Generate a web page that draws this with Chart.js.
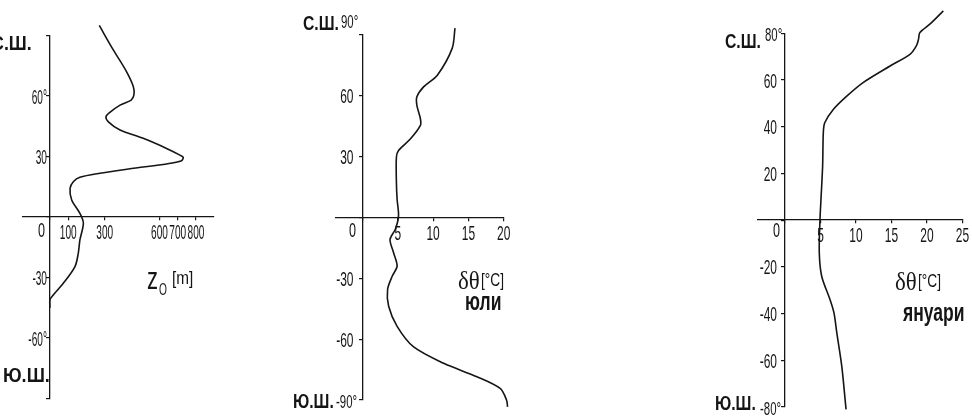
<!DOCTYPE html>
<html>
<head>
<meta charset="utf-8">
<script src="https://cdn.jsdelivr.net/npm/chart.js@4.4.1/dist/chart.umd.min.js"></script>
<style>
  body { margin: 0; background: #fff; width: 972px; height: 418px; overflow: hidden; position: relative;
         font-family: "Liberation Sans", Arial, sans-serif; color: #151515; }
  canvas { position: absolute; top: 0; }
  .t { position: absolute; white-space: nowrap; line-height: 1; transform-origin: 0 0; }
  .hem { font-weight: bold; font-size: 21px; transform: scaleX(0.75); }
  .deg { font-size: 19px; transform: scaleX(0.6); }
  .num { font-size: 21px; transform: scaleX(0.6); }
  .serif { font-family: "Liberation Serif", serif; font-size: 26px; transform: scaleX(0.88); }
  .unit { font-size: 19px; transform: scaleX(0.72); }
  .month { font-weight: bold; font-size: 25px; transform: scaleX(0.7); }
</style>
</head>
<body>
<canvas id="c1" width="240" height="418" style="left:0"></canvas>
<canvas id="c2" width="260" height="418" style="left:270px"></canvas>
<canvas id="c3" width="282" height="418" style="left:690px"></canvas>

<!-- panel 1 -->
<div class="t hem" style="left:-9px;top:32px;transform:scaleX(0.85)">С.Ш.</div>
<div class="t hem" style="left:3px;top:364px;transform:scaleX(0.86)">Ю.Ш.</div>
<div class="t num" style="left:38px;top:219px">0</div>
<div class="t" style="left:147px;top:262px;font-size:32px;transform:scaleX(0.69)">z</div>
<div class="t" style="left:159px;top:281px;font-size:17px;transform:scaleX(0.6)">O</div>
<div class="t" style="left:172px;top:269px;font-size:18px;transform:scaleX(0.85)">[m]</div>

<!-- panel 2 -->
<div class="t hem" style="left:303px;top:12px">С.Ш.</div>
<div class="t deg" style="left:341px;top:12px">90°</div>
<div class="t hem" style="left:293px;top:390px">Ю.Ш.</div>
<div class="t deg" style="left:336px;top:392px">-90°</div>
<div class="t num" style="left:349px;top:219px">0</div>
<div class="t serif" style="left:458px;top:268px">δθ</div>
<div class="t unit" style="left:481px;top:270px">[°C]</div>
<div class="t month" style="left:465px;top:289px">юли</div>

<!-- panel 3 -->
<div class="t hem" style="left:725px;top:30px">С.Ш.</div>
<div class="t deg" style="left:765px;top:25px">80°</div>
<div class="t hem" style="left:715px;top:392px">Ю.Ш.</div>
<div class="t deg" style="left:760px;top:399px">-80°</div>
<div class="t num" style="left:773px;top:219px">0</div>
<div class="t serif" style="left:895px;top:269px">δθ</div>
<div class="t unit" style="left:918px;top:271px">[°C]</div>
<div class="t month" style="left:903px;top:300px">януари</div>

<script>
// Panel 1: roughness length z0 [m] vs latitude
const lat1 = [95, 83, 72, 64.6, 60.5, 58, 55.5, 52, 49.7, 47.2, 43.1, 39, 34, 30.7, 29.6, 27.9, 26.3, 24.2, 21.7, 19.7, 17.5, 14.2, 8.4, 1.8, -3.1, -11.4, -18, -24.6, -32.9, -38.7, -41, -45];
const z0   = [270, 346, 420, 457, 460, 445, 384, 330, 307, 320, 384, 511, 639, 712, 730, 721, 639, 457, 274, 164, 128, 110, 119, 164, 183, 164, 155, 137, 73, 18, 0, 0];
const xTicks1 = [0, 100, 300, 600, 700, 800];
const yTicks1 = [-90, -60, -30, 0, 30, 60, 90];

// Panel 2: delta theta [C], July
const lat2   = [93.4, 83.4, 70.2, 64.4, 59.5, 55.3, 48.7, 45.4, 38.8, 33, 29.7, 17.3, 9, 0.8, -5.8, -10.8, -17.4, -24, -29, -35.5, -43.8, -53.7, -63.7, -71.9, -78.5, -84.3, -90, -93.4];
const dthJul = [13.1, 12.7, 10.6, 8.65, 7.7, 7.7, 8.2, 8.2, 6.8, 5.1, 4.8, 4.8, 4.9, 5.1, 4.65, 3.9, 4.4, 4.9, 4.2, 3.55, 3.7, 4.9, 7.2, 11.5, 16.2, 19.5, 20.4, 20.55];
const xTicks2 = [0, 5, 10, 15, 20];
const yTicks2 = [-90, -60, -30, 0, 30, 60, 90];

// Panel 3: delta theta [C], January
const lat3   = [89.6, 83.9, 80.3, 77.4, 74.6, 71, 66, 58.9, 53.1, 47.4, 41.7, 37.5, 23.1, 8.9, 0.3, -14, -24, -34, -39.7, -48.3, -62.6, -81];
const dthJan = [22.3, 20.4, 19, 18.8, 18.5, 17.6, 14.8, 11, 8.7, 6.8, 5.6, 5.4, 5.3, 5.07, 4.93, 4.83, 5.17, 6.34, 6.9, 7.3, 8, 8.6];
const xTicks3 = [0, 5, 10, 15, 20, 25];
const yTicks3 = [-80, -60, -40, -20, 0, 20, 40, 60, 80];

const FONT = "'Liberation Sans', Arial, sans-serif";
const INK = "#151515";
const TICK_SIZE = 21;

function zip(xs, ys) {
    return xs.map((x, i) => ({ x: x, y: ys[i] }));
}

// narrow, tall tick labels like the scanned figure
function drawNarrow(ctx, text, x, y, align, squeeze) {
    ctx.save();
    ctx.translate(x, y);
    ctx.scale(squeeze, 1);
    ctx.textAlign = align;
    ctx.textBaseline = "alphabetic";
    ctx.fillText(text, 0, 0);
    ctx.restore();
}

const tickText = {
    id: "tickText",
    afterDraw(chart, args, opts) {
        const ctx = chart.ctx;
        const xs = chart.scales.x, ys = chart.scales.y;
        const x0 = xs.getPixelForValue(0), y0 = ys.getPixelForValue(0);
        ctx.save();
        ctx.fillStyle = INK;
        ctx.font = TICK_SIZE + "px " + FONT;
        xs.ticks.forEach(t => {
            if (t.value === 0) return;
            drawNarrow(ctx, String(t.value), xs.getPixelForValue(t.value), y0 + 22, "center", opts.squeeze);
        });
        ys.ticks.forEach(t => {
            const label = opts.yLabel(t.value);
            if (!label) return;
            drawNarrow(ctx, label, x0 - opts.gap, ys.getPixelForValue(t.value) + 0.358 * TICK_SIZE, "right", opts.squeeze);
        });
        ctx.restore();
    }
};

function makePanel(id, points, xr, yr, xt, yt, yLabel, gap, squeeze, pad) {
    const axisGrid = { drawOnChartArea: false, drawTicks: true, tickLength: 3, color: INK, lineWidth: 1.2 };
    return new Chart(document.getElementById(id), {
        type: "scatter",
        data: {
            datasets: [{
                data: points, showLine: true, borderColor: INK, borderWidth: 1.6,
                pointRadius: 0, tension: 0.3, clip: false
            }]
        },
        plugins: [tickText],
        options: {
            responsive: false,
            animation: false,
            events: [],
            layout: { padding: pad },
            plugins: {
                legend: { display: false },
                tooltip: { enabled: false },
                tickText: { yLabel: yLabel, gap: gap, squeeze: squeeze }
            },
            scales: {
                x: {
                    type: "linear", min: xr[0], max: xr[1], position: { y: 0 },
                    afterFit: s => { s.height = 0; },
                    afterBuildTicks: s => { s.ticks = xt.map(v => ({ value: v })); },
                    grid: axisGrid,
                    border: { display: true, color: INK, width: 1.3 },
                    ticks: { display: false }
                },
                y: {
                    type: "linear", min: yr[0], max: yr[1], position: { x: 0 },
                    afterFit: s => { s.width = 0; },
                    afterBuildTicks: s => { s.ticks = yt.map(v => ({ value: v })); },
                    grid: axisGrid,
                    border: { display: true, color: INK, width: 1.3 },
                    ticks: { display: false }
                }
            }
        }
    });
}

document.addEventListener("DOMContentLoaded", () => {
    makePanel("c1", zip(z0, lat1), [-150, 895], [-90, 90], xTicks1, yTicks1,
        v => (v === 60 || v === -60 ? v + "°" : (v === 30 || v === -30 ? String(v) : "")), 3, 0.48,
        { left: 22.6, right: 26.7, top: 35.5, bottom: 19.5 });

    makePanel("c2", zip(dthJul, lat2), [-3.8, 20], [-90, 90], xTicks2, yTicks2,
        v => (Math.abs(v) === 90 || v === 0 ? "" : String(v)), 9, 0.57,
        { left: 65.7, right: 26.3, top: 35, bottom: 18 });

    makePanel("c3", zip(dthJan, lat3), [-3.8, 25], [-80, 80], xTicks3, yTicks3,
        v => (Math.abs(v) === 80 || v === 0 ? "" : String(v)), 8, 0.57,
        { left: 68, right: 9.5, top: 33.3, bottom: 11 });
});
</script>
</body>
</html>
